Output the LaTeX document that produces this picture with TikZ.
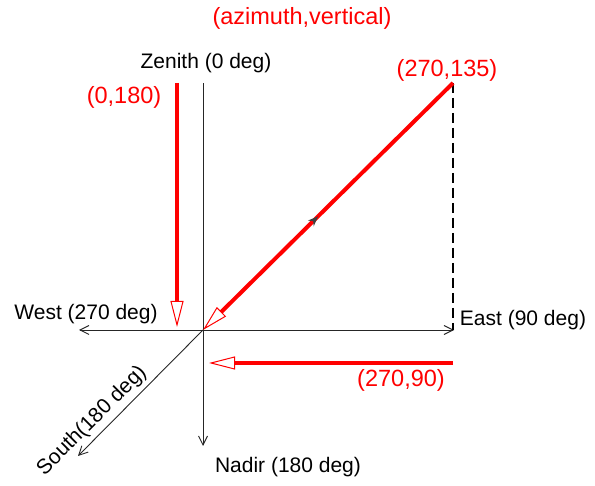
\documentclass[tikz,border=0pt]{standalone}
\usepackage{fontspec}
\setmainfont{Liberation Sans}
\usepackage{tikz}
\usetikzlibrary{arrows.meta, positioning, calc, decorations.markings}
\definecolor{dirred}{HTML}{FF0000}

\begin{document}
\begin{tikzpicture}[
    x=1pt, y=-1pt,
    every node/.style={inner sep=0pt},
    axis/.style={line width=0.9pt, color=black!85,
                 -{Straight Barb[length=9pt, width=9pt, line width=0.9pt]}},
    ray/.style={line width=4pt, color=dirred,
                -{Triangle[open, length=26pt, width=13pt, line width=1pt, fill=white]}},
    axlabel/.style={font=\fontsize{21}{24}\selectfont, color=black},
    dirlabel/.style={font=\fontsize{23.5}{27}\selectfont, color=dirred}
]
\useasboundingbox (0,0) rectangle (595,486);

% Points
\coordinate (O)      at (203,330);
\coordinate (zenith) at (203,83);
\coordinate (nadir)  at (203,446);
\coordinate (west)   at (79,330);
\coordinate (east)   at (454,330);
\coordinate (south)  at (78,456);
\coordinate (top)    at (453,83);

% Axes
\draw[line width=0.9pt, black!85] (O) -- (zenith);
\draw[axis] (O) -- (nadir);
\draw[axis] (O) -- (west);
\draw[axis] (O) -- (east);
\draw[axis] (O) -- (south);
\draw[line width=1.3pt, dash pattern=on 10pt off 5pt] (top) -- (top |- O);

% Directions
\coordinate (s1) at (177,83);
\coordinate (e1) at (177,327);
\draw[ray] (s1) -- (e1);
\draw[ray, postaction={decorate, decoration={markings,
      mark=at position 0.54 with {\arrowreversed[color=black!75]{Stealth[length=10pt, width=8pt]}}}}]
    (top) -- (O);
\coordinate (s3) at (453,363);
\coordinate (e3) at (209,363);
\draw[ray] (s3) -- (e3);

% Labels
\node[dirlabel] (title)  at (302,18)  {(azimuth,vertical)};
\node[axlabel]  (zen)    at (206,63)  {Zenith (0 deg)};
\node[dirlabel] (l0)     at (124,97)  {(0,180)};
\node[dirlabel] (l135)   at (447,70)  {(270,135)};
\node[axlabel]  (wlab)   at (86,314)  {West (270 deg)};
\node[axlabel]  (elab)   at (523,320) {East (90 deg)};
\node[dirlabel] (l90)    at (401,380) {(270,90)};
\node[axlabel]  (nad)    at (288,467) {Nadir (180 deg)};
\node[axlabel, rotate=45] (slab) at (92,421) {South(180 deg)};

\end{tikzpicture}
\end{document}
